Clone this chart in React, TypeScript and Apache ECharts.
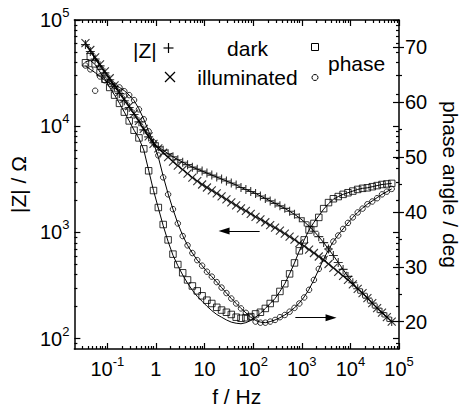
import React, { useEffect, useRef } from 'react';
import * as echarts from 'echarts';

// Frequencies (Hz), ~10 points per decade
const freq = [0.0355, 0.0447, 0.0562, 0.0708, 0.0891, 0.112, 0.141, 0.178, 0.224, 0.282,
  0.355, 0.447, 0.562, 0.708, 0.891, 1.12, 1.41, 1.78, 2.24, 2.82,
  3.55, 4.47, 5.62, 7.08, 8.91, 11.2, 14.1, 17.8, 22.4, 28.2,
  35.5, 44.7, 56.2, 70.8, 89.1, 112, 141, 178, 224, 282,
  355, 447, 562, 708, 891, 1122, 1413, 1778, 2239, 2818,
  3548, 4467, 5623, 7079, 8913, 11220, 14130, 17780, 22390, 28180,
  35480, 44670, 56230, 70790];

// |Z| (Ohm) dark (+)
const zDark = [58700, 50600, 43000, 37000, 31800, 27400, 23500, 20300, 17400, 15000,
  12900, 11000, 9240, 7940, 6980, 6400, 5940, 5510, 5165, 4842,
  4587, 4348, 4120, 3947, 3781, 3622, 3469, 3323, 3184, 3050,
  2921, 2797, 2651, 2539, 2432, 2330, 2208, 2092, 1983, 1879,
  1780, 1687, 1582, 1483, 1375, 1262, 1145, 1028, 913, 803,
  698, 607, 522, 449, 386, 336, 295, 268, 241, 216,
  194, 176, 160, 145];

// |Z| (Ohm) illuminated (x)
const zIllum = [60700, 52200, 44400, 38200, 32900, 28300, 24300, 20900, 18000, 15500,
  13170, 11210, 9435, 8030, 6832, 6200, 5630, 5110, 4637, 4256,
  3905, 3583, 3287, 3050, 2828, 2651, 2485, 2330, 2184, 2047,
  1920, 1800, 1687, 1599, 1499, 1405, 1331, 1248, 1170, 1109,
  1039, 975, 913, 856, 794, 745, 691, 641, 594, 551,
  505, 464, 426, 390, 358, 325, 295, 268, 241, 216,
  194, 176, 160, 145];

// phase (deg) dark (squares)
const phaseDark = [67.2, 68.3, 67.0, 65.4, 64.2, 62.7, 61.3, 59.8, 58.2, 56.6,
  54.9, 53.5, 51.5, 47.5, 43.9, 40.8, 37.7, 34.9, 32.3, 30.4,
  28.9, 27.6, 26.5, 25.6, 24.7, 23.9, 23.3, 22.6, 22.1, 21.7,
  21.3, 20.8, 20.6, 20.7, 20.9, 21.4, 21.7, 22.4, 23.3, 24.2,
  25.5, 26.9, 28.7, 30.7, 32.9, 34.9, 36.7, 37.9, 39.0, 40.6,
  41.7, 42.4, 42.8, 43.2, 43.5, 43.8, 44.1, 44.3, 44.4, 44.6,
  44.8, 45.0, 45.1, 45.2];

// phase (deg) illuminated (circles)
const phaseIllum = [66.7, 66.0, 62.1, 64.7, 64.0, 63.4, 63.0, 62.7, 62.0, 61.3,
  60.4, 58.7, 56.9, 54.7, 52.7, 50.3, 46.3, 43.2, 40.5, 37.9,
  35.6, 33.9, 32.5, 31.2, 30.2, 29.1, 28.2, 27.2, 26.2, 25.2,
  24.2, 23.3, 22.4, 21.6, 20.8, 20.0, 19.8, 19.8, 20.0, 20.3,
  20.8, 21.2, 21.8, 22.5, 23.3, 24.4, 25.8, 27.6, 29.6, 31.5,
  33.2, 34.6, 35.7, 36.9, 38.0, 39.0, 39.9, 40.6, 41.4, 41.9,
  42.5, 43.2, 43.7, 44.2];

// fitted curves (deg)
const phaseDarkFit = [67.4, 67.6, 66.9, 65.5, 64.2, 62.7, 61.3, 59.8, 58.2, 56.6,
  54.9, 53.4, 51.3, 47.6, 43.9, 40.7, 37.5, 34.6, 32.1, 30.2,
  28.5, 27.0, 25.7, 24.6, 23.7, 22.8, 22.0, 21.3, 20.8, 20.3,
  19.9, 19.7, 19.6, 19.8, 20.2, 20.8, 21.5, 22.4, 23.3, 24.2,
  25.5, 26.9, 28.7, 30.7, 32.9, 34.9, 36.7, 38.1, 39.3, 40.5,
  41.5, 42.3, 42.8, 43.2, 43.5, 43.8, 44.1, 44.3, 44.4, 44.6,
  44.8, 45.0, 45.1, 45.2];

const phaseIllumFit = [66.6, 66.0, 65.4, 64.7, 64.0, 63.5, 63.1, 62.7, 62.1, 61.3,
  60.3, 58.8, 56.9, 54.7, 52.6, 50.0, 46.5, 43.3, 40.5, 37.9,
  35.7, 33.9, 32.5, 31.2, 30.2, 29.1, 28.2, 27.2, 26.2, 25.2,
  24.2, 23.3, 22.4, 21.6, 20.8, 20.2, 19.9, 19.8, 20.0, 20.3,
  20.7, 21.2, 21.8, 22.5, 23.4, 24.5, 25.9, 27.6, 29.5, 31.4,
  33.1, 34.6, 35.8, 36.9, 38.0, 39.0, 39.9, 40.7, 41.4, 42.0,
  42.6, 43.2, 43.7, 44.2];

// axes ticks
const xMajorTicks = [0.1, 1, 10, 100, 1000, 10000, 100000];
const yMajorTicks = [100, 1000, 10000, 100000];
const phaseTicks = [20, 30, 40, 50, 60, 70];
const phaseMinorTicks = [25, 35, 45, 55, 65];
const logMantissas = [2, 3, 4, 5, 6, 7, 8, 9];

const FONT = '"Liberation Sans", Arial, Helvetica, sans-serif';
const X_MIN = 0.021;
const X_MAX = 100000;
const Y_MIN = 80;
const Y_MAX = 100000;

function minorLog(lo: number, hi: number): number[] {
  const out: number[] = [];
  for (let e = -3; e <= 5; e++) {
    for (const m of logMantissas) {
      const v = parseFloat((m * Math.pow(10, e)).toPrecision(6));
      if (v > lo && v < hi) out.push(v);
    }
  }
  return out;
}

const rich = {
  b: { fontSize: 20, fontFamily: FONT, color: '#000', lineHeight: 20, verticalAlign: 'bottom' },
  p: { fontSize: 20, fontFamily: FONT, color: '#000', lineHeight: 20, verticalAlign: 'bottom' },
  s: { fontSize: 13, fontFamily: FONT, color: '#000', lineHeight: 13, verticalAlign: 'bottom', padding: [0, 0, 11, 0] },
};

const powLabel = (v: number) => {
  const e = Math.round(Math.log10(v));
  return `{b|10}{s|${e}}`;
};
const xLabel = (v: number) => {
  const e = Math.round(Math.log10(v));
  if (e === 0) return '{p|1}';
  if (e === 1) return '{p|10}';
  return `{b|10}{s|${e}}`;
};

const lineBlack = { color: '#000', width: 1.5 };
const tickStyle = { color: '#000', width: 1.2 };
const nameStyle = { fontSize: 21, fontFamily: FONT, color: '#000' };

function pairs(xs: number[], ys: number[]) {
  return xs.map((x, i) => [x, ys[i]]);
}

export default function App() {
  const ref = useRef<HTMLDivElement>(null);
  useEffect(() => {
    if (!ref.current) return;
    const chart = echarts.init(ref.current, undefined, { renderer: 'svg' });
    const xMinor = minorLog(X_MIN, X_MAX);
    const yMinor = minorLog(Y_MIN, Y_MAX);

    const logX = (extra: any) => ({
      type: 'log', logBase: 10, min: X_MIN, max: X_MAX, gridIndex: 0,
      splitLine: { show: false }, ...extra,
    });
    const logY = (extra: any) => ({
      type: 'log', logBase: 10, min: Y_MIN, max: Y_MAX, gridIndex: 0,
      splitLine: { show: false }, ...extra,
    });
    const phY = (extra: any) => ({
      type: 'value', min: 15, max: 75, gridIndex: 0,
      splitLine: { show: false }, ...extra,
    });

    const option: any = {
      animation: false,
      backgroundColor: '#fff',
      grid: { left: 68, right: 67, top: 20, bottom: 60, containLabel: false },
      xAxis: [
        logX({
          position: 'bottom',
          axisLine: { show: true, lineStyle: lineBlack },
          axisTick: { show: true, inside: true, length: 6, lineStyle: tickStyle, customValues: xMajorTicks },
          axisLabel: { show: true, customValues: xMajorTicks, formatter: xLabel, rich, margin: 10, fontSize: 20, fontFamily: FONT, color: '#000' },
          name: 'f / Hz', nameLocation: 'middle', nameGap: 37, nameTextStyle: nameStyle,
        }),
        logX({
          position: 'bottom',
          axisLine: { show: false },
          axisTick: { show: true, inside: true, length: 3, lineStyle: tickStyle, customValues: xMinor },
          axisLabel: { show: false },
        }),
        logX({
          position: 'top',
          axisLine: { show: true, lineStyle: lineBlack },
          axisTick: { show: true, inside: true, length: 6, lineStyle: tickStyle, customValues: xMajorTicks },
          axisLabel: { show: false },
        }),
        logX({
          position: 'top',
          axisLine: { show: false },
          axisTick: { show: true, inside: true, length: 3, lineStyle: tickStyle, customValues: xMinor },
          axisLabel: { show: false },
        }),
      ],
      yAxis: [
        logY({
          position: 'left',
          axisLine: { show: true, lineStyle: lineBlack },
          axisTick: { show: true, inside: true, length: 6, lineStyle: tickStyle, customValues: yMajorTicks },
          axisLabel: { show: true, customValues: yMajorTicks, formatter: powLabel, rich, margin: 5, fontSize: 20, fontFamily: FONT, color: '#000' },
          name: '|Z| / Ω', nameLocation: 'middle', nameGap: 40, nameTextStyle: nameStyle,
        }),
        logY({
          position: 'left',
          axisLine: { show: false },
          axisTick: { show: true, inside: true, length: 3, lineStyle: tickStyle, customValues: yMinor },
          axisLabel: { show: false },
        }),
        logY({
          position: 'right',
          axisLine: { show: true, lineStyle: lineBlack },
          axisTick: { show: true, inside: true, length: 6, lineStyle: tickStyle, customValues: yMajorTicks },
          axisLabel: { show: false },
        }),
        logY({
          position: 'right',
          axisLine: { show: false },
          axisTick: { show: true, inside: true, length: 3, lineStyle: tickStyle, customValues: yMinor },
          axisLabel: { show: false },
        }),
        phY({
          position: 'right',
          axisLine: { show: false },
          axisTick: { show: true, inside: false, length: 5, lineStyle: tickStyle, customValues: phaseTicks },
          axisLabel: { show: true, customValues: phaseTicks, margin: 6, fontSize: 20, fontFamily: FONT, color: '#000' },
          name: 'phase angle / deg', nameLocation: 'middle', nameRotate: -90, nameGap: 41, nameTextStyle: nameStyle,
        }),
        phY({
          position: 'right',
          axisLine: { show: false },
          axisTick: { show: true, inside: true, length: 6, lineStyle: tickStyle, customValues: phaseTicks },
          axisLabel: { show: false },
        }),
        phY({
          position: 'right',
          axisLine: { show: false },
          axisTick: { show: true, inside: false, length: 3, lineStyle: tickStyle, customValues: phaseMinorTicks },
          axisLabel: { show: false },
        }),
      ],
      series: [
        {
          type: 'line', name: 'Z dark fit', xAxisIndex: 0, yAxisIndex: 0,
          data: pairs(freq, zDark), showSymbol: false, symbol: 'none',
          lineStyle: { color: '#000', width: 1 }, silent: true,
          markLine: {
            silent: true, symbol: ['none', 'triangle'], symbolSize: [7, 11],
            label: { show: false },
            lineStyle: { color: '#000', width: 1, type: 'solid' },
            itemStyle: { color: '#000' },
            data: [[{ coord: [136, 1033] }, { coord: [25.2, 1033] }]],
          },
        },
        {
          type: 'line', name: 'Z illum fit', xAxisIndex: 0, yAxisIndex: 0,
          data: pairs(freq, zIllum), showSymbol: false, symbol: 'none',
          lineStyle: { color: '#000', width: 1 }, silent: true,
        },
        {
          type: 'line', name: 'phase dark fit', xAxisIndex: 0, yAxisIndex: 4,
          data: pairs(freq, phaseDarkFit), showSymbol: false, symbol: 'none',
          lineStyle: { color: '#000', width: 1 }, silent: true,
          markLine: {
            silent: true, symbol: ['none', 'triangle'], symbolSize: [7, 11],
            label: { show: false },
            lineStyle: { color: '#000', width: 1, type: 'solid' },
            itemStyle: { color: '#000' },
            data: [[{ coord: [738, 20.7] }, { coord: [4000, 20.7] }]],
          },
        },
        {
          type: 'line', name: 'phase illum fit', xAxisIndex: 0, yAxisIndex: 4,
          data: pairs(freq, phaseIllumFit), showSymbol: false, symbol: 'none',
          lineStyle: { color: '#000', width: 1 }, silent: true,
        },
        {
          type: 'scatter', name: '|Z| dark', xAxisIndex: 0, yAxisIndex: 0,
          data: pairs(freq, zDark), symbol: 'path://M5 0 L5 10 M0 5 L10 5', symbolSize: 9,
          itemStyle: { color: 'rgba(0,0,0,0)', borderColor: '#000', borderWidth: 1.1 }, silent: true,
        },
        {
          type: 'scatter', name: '|Z| illuminated', xAxisIndex: 0, yAxisIndex: 0,
          data: pairs(freq, zIllum), symbol: 'path://M0 0 L10 10 M10 0 L0 10', symbolSize: 8,
          itemStyle: { color: 'rgba(0,0,0,0)', borderColor: '#000', borderWidth: 1.1 }, silent: true,
        },
        {
          type: 'scatter', name: 'phase dark', xAxisIndex: 0, yAxisIndex: 4,
          data: pairs(freq, phaseDark), symbol: 'rect', symbolSize: 6.5,
          itemStyle: { color: 'rgba(0,0,0,0)', borderColor: '#000', borderWidth: 1 }, silent: true,
        },
        {
          type: 'scatter', name: 'phase illuminated', xAxisIndex: 0, yAxisIndex: 4,
          data: pairs(freq, phaseIllum), symbol: 'circle', symbolSize: 5.5,
          itemStyle: { color: 'rgba(0,0,0,0)', borderColor: '#000', borderWidth: 1 }, silent: true,
        },
      ],
      graphic: [
        { type: 'text', x: 133, y: 50, style: { text: '|Z|', fontSize: 21, fontFamily: FONT, fill: '#000', align: 'left', verticalAlign: 'middle' } },
        { type: 'line', shape: { x1: 163.5, y1: 48, x2: 173.5, y2: 48 }, style: { stroke: '#000', lineWidth: 1.2 } },
        { type: 'line', shape: { x1: 168.5, y1: 43, x2: 168.5, y2: 53 }, style: { stroke: '#000', lineWidth: 1.2 } },
        { type: 'line', shape: { x1: 165, y1: 72, x2: 175, y2: 82 }, style: { stroke: '#000', lineWidth: 1.2 } },
        { type: 'line', shape: { x1: 175, y1: 72, x2: 165, y2: 82 }, style: { stroke: '#000', lineWidth: 1.2 } },
        { type: 'text', x: 247.5, y: 48, style: { text: 'dark', fontSize: 21, fontFamily: FONT, fill: '#000', align: 'center', verticalAlign: 'middle' } },
        { type: 'text', x: 247.5, y: 77, style: { text: 'illuminated', fontSize: 21, fontFamily: FONT, fill: '#000', align: 'center', verticalAlign: 'middle' } },
        { type: 'rect', shape: { x: 311.5, y: 43.5, width: 7, height: 7 }, style: { fill: 'none', stroke: '#000', lineWidth: 1 } },
        { type: 'circle', shape: { cx: 315, cy: 77.5, r: 3 }, style: { fill: 'none', stroke: '#000', lineWidth: 1 } },
        { type: 'text', x: 328, y: 63, style: { text: 'phase', fontSize: 21, fontFamily: FONT, fill: '#000', align: 'left', verticalAlign: 'middle' } },
      ],
    };
    chart.setOption(option);
    return () => chart.dispose();
  }, []);
  return <div ref={ref} style={{ position: 'fixed', left: 0, top: 0, width: 469, height: 412, background: '#fff' }} />;
}
